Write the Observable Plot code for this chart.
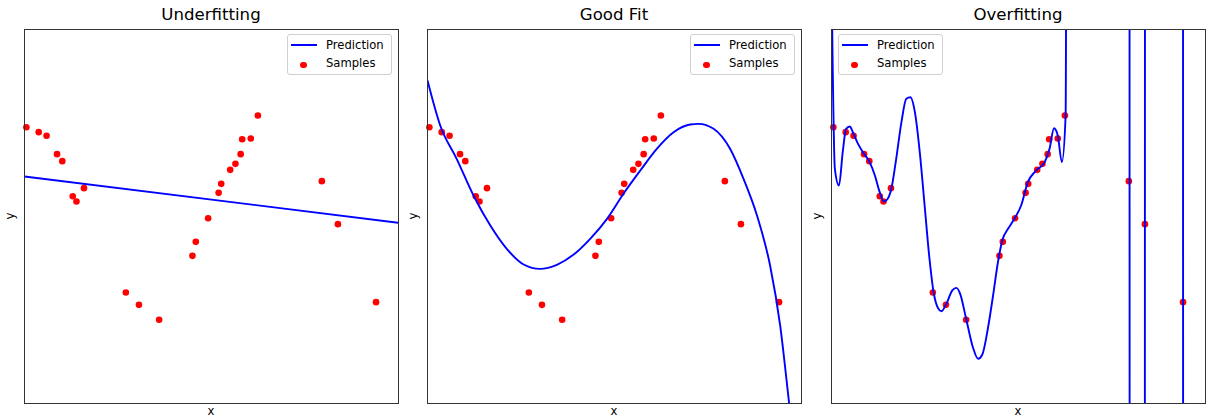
<!DOCTYPE html>
<html><head><meta charset="utf-8">
<script src="https://cdn.jsdelivr.net/npm/d3@7"></script>
<script src="https://cdn.jsdelivr.net/npm/@observablehq/plot@0.6"></script>
<style>
body{margin:0;background:#fff;font-family:"DejaVu Sans",sans-serif;color:#000;}
#root{position:relative;width:1206px;height:419px;overflow:hidden;background:#fff;}
.panel{position:absolute;top:28px;}
.title{position:absolute;top:7px;font-size:16.6px;line-height:16.6px;white-space:nowrap;transform:translateX(-50%);}
.xlab{position:absolute;top:405.5px;font-size:11.6px;line-height:11.6px;transform:translateX(-50%);}
.ylab{position:absolute;top:216px;font-size:11.6px;line-height:11.6px;transform:translate(-50%,-50%) rotate(-90deg);}
.legend{position:absolute;top:34px;width:105px;height:41px;border:1px solid #cfcfcf;border-radius:3px;background:rgba(255,255,255,0.8);box-sizing:border-box;}
.legend .ln{position:absolute;left:3px;top:8.5px;width:26px;height:2px;background:blue;}
.legend .dt{position:absolute;left:12px;top:26.7px;width:6.5px;height:6.5px;border-radius:50%;background:red;}
.legend .tx{position:absolute;left:38px;font-size:11.6px;line-height:11.6px;white-space:nowrap;}
</style>
</head><body><div id="root"></div>
<script>
// Samples (x in [0,1], y in [-2,2])
const sampleX = [0.005, 0.038, 0.059, 0.087, 0.101, 0.129, 0.139, 0.159, 0.271, 0.306, 0.360, 0.449, 0.458, 0.491, 0.519, 0.526, 0.550, 0.564, 0.578, 0.582, 0.605, 0.624, 0.795, 0.838, 0.940];
const sampleY = [0.955, 0.902, 0.863, 0.667, 0.592, 0.217, 0.160, 0.303, -0.813, -0.945, -1.105, -0.421, -0.271, -0.018, 0.253, 0.349, 0.499, 0.563, 0.667, 0.827, 0.834, 1.080, 0.378, -0.082, -0.916];

// Underfitting prediction (degree 1)
const underX = [0, 1];
const underY = [0.428, -0.067];

// Good fit prediction
const goodX = [0, 0.034, 0.078, 0.123, 0.168, 0.212, 0.257, 0.301, 0.346, 0.390, 0.435, 0.480, 0.524, 0.569, 0.613, 0.658, 0.702, 0.725, 0.765, 0.809, 0.845, 0.881, 0.916, 0.943, 0.967, 0.980];
const goodY = [1.455, 0.973, 0.617, 0.225, -0.096, -0.346, -0.513, -0.560, -0.517, -0.410, -0.239, -0.025, 0.243, 0.492, 0.724, 0.902, 0.984, 0.991, 0.938, 0.724, 0.403, 0.011, -0.524, -1.166, -2.0, -2.45];

// Overfitting prediction
const overX = [0.0, 0.009, 0.020, 0.030, 0.039, 0.049, 0.057, 0.071, 0.084, 0.102, 0.116, 0.129, 0.140, 0.149, 0.160, 0.173, 0.187, 0.200, 0.211, 0.223, 0.236, 0.249, 0.262, 0.273, 0.285, 0.294, 0.307, 0.323, 0.334, 0.344, 0.360, 0.378, 0.392, 0.403, 0.418, 0.432, 0.445, 0.458, 0.472, 0.489, 0.507, 0.525, 0.547, 0.570, 0.583, 0.595, 0.605, 0.616, 0.626, 0.632, 0.700, 0.7965, 0.7975, 0.8375, 0.8385, 0.9395, 0.9405, 1.0];
const overY = [2.6, 0.510, 0.332, 0.688, 0.938, 0.963, 0.902, 0.777, 0.688, 0.581, 0.439, 0.260, 0.160, 0.182, 0.296, 0.617, 1.009, 1.259, 1.276, 1.116, 0.688, 0.118, -0.452, -0.810, -0.981, -1.013, -0.934, -0.791, -0.763, -0.827, -1.094, -1.398, -1.522, -1.479, -1.201, -0.845, -0.489, -0.239, -0.132, -0.025, 0.118, 0.367, 0.492, 0.581, 0.724, 0.944, 0.866, 0.581, 1.080, 10, 10, 10, -10, -10, 10, 10, -10, -10];

const titles = ["Underfitting", "Good Fit", "Overfitting"];
const lefts = [24, 427, 831];
const curves = [[underX, underY], [goodX, goodY], [overX, overY]];
const legendSide = ["right", "right", "left"];

const W = 374, H = 374;
const root = document.getElementById("root");
const samples = sampleX.map((x, i) => ({x, y: sampleY[i]}));

curves.forEach(([cx, cy], k) => {
  const pts = cx.map((x, i) => ({x, y: cy[i]}));
  const chart = Plot.plot({
    width: W + 2, height: H + 2, margin: 1,
    x: {domain: [0, 1], axis: null},
    y: {domain: [-2, 2], axis: null},
    style: {background: "transparent", overflow: "visible"},
    marks: [
      Plot.dot(samples, {x: "x", y: "y", r: 3.3, fill: "red"}),
      Plot.line(pts, {x: "x", y: "y", stroke: "blue", strokeWidth: 1.9, clip: true, curve: "monotone-x"}),
      Plot.frame({stroke: "#333", strokeWidth: 1})
    ]
  });
  chart.classList.add("panel");
  chart.style.left = (lefts[k] - 1) + "px";
  chart.style.maxWidth = "none";
  root.appendChild(chart);

  const t = document.createElement("div");
  t.className = "title"; t.textContent = titles[k];
  t.style.left = (lefts[k] + W / 2) + "px";
  root.appendChild(t);

  const xl = document.createElement("div");
  xl.className = "xlab"; xl.textContent = "x";
  xl.style.left = (lefts[k] + W / 2) + "px";
  root.appendChild(xl);

  const yl = document.createElement("div");
  yl.className = "ylab"; yl.textContent = "y";
  yl.style.left = (lefts[k] - 13) + "px";
  root.appendChild(yl);

  const lg = document.createElement("div");
  lg.className = "legend";
  lg.style.left = (legendSide[k] === "right" ? lefts[k] + W - 111 : lefts[k] + 7) + "px";
  lg.innerHTML = '<div class="ln"></div><div class="tx" style="top:4.5px">Prediction</div>' +
                 '<div class="dt"></div><div class="tx" style="top:22.7px">Samples</div>';
  root.appendChild(lg);
});
</script>
</body></html>
